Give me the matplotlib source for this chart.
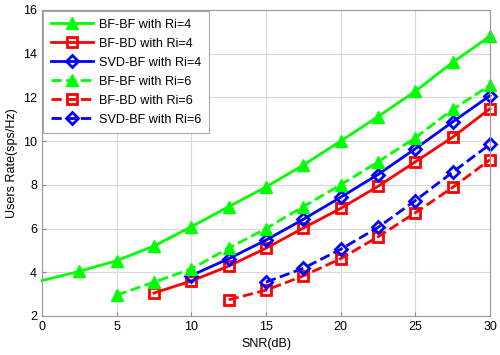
import numpy as np
import matplotlib.pyplot as plt

plt.rcParams['font.family'] = ['Liberation Sans', 'DejaVu Sans']

snr = [0, 2.5, 5, 7.5, 10, 12.5, 15, 17.5, 20, 22.5, 25, 27.5, 30]

bfbf_4 = [3.62, 4.04, 4.53, 5.2, 6.08, 7.0, 7.9, 8.9, 10.0, 11.12, 12.28, 13.6, 14.8]
bfbf_6 = [2.95, 3.55, 4.15, 5.1, 6.0, 7.0, 8.0, 9.05, 10.15, 11.45, 12.55]
bfbd_4 = [3.05, 3.6, 4.28, 5.1, 6.02, 6.92, 7.93, 9.05, 10.18, 11.48]
svdbf_4 = [3.85, 4.62, 5.47, 6.42, 7.43, 8.47, 9.65, 10.88, 12.08]
bfbd_6 = [2.74, 3.18, 3.83, 4.62, 5.62, 6.72, 7.88, 9.15]
svdbf_6 = [3.55, 4.18, 5.05, 6.05, 7.28, 8.58, 9.85]

labels = ['BF-BF with Ri=4', 'BF-BD with Ri=4', 'SVD-BF with Ri=4',
          'BF-BF with Ri=6', 'BF-BD with Ri=6', 'SVD-BF with Ri=6']

fig = plt.figure(figsize=(5, 3.55), dpi=100)
ax = fig.add_axes([0.084, 0.11, 0.896, 0.862])

green = '#00ff00'
ax.plot(snr, bfbf_4, '-', color=green, lw=2, marker='^', ms=9, mfc=green,
        markevery=list(range(1, len(snr))), label=labels[0], clip_on=False)
ax.plot(snr[-len(bfbd_4):], bfbd_4, '-', color='red', lw=2, marker='s', ms=7,
        mfc='none', mew=2, label=labels[1], clip_on=False)
ax.plot(snr[-len(svdbf_4):], svdbf_4, '-', color='blue', lw=2, marker='D', ms=6,
        mfc='none', mew=2, label=labels[2], clip_on=False)
ax.plot(snr[-len(bfbf_6):], bfbf_6, '--', color=green, lw=2, marker='^', ms=9,
        mfc=green, label=labels[3], clip_on=False)
ax.plot(snr[-len(bfbd_6):], bfbd_6, '--', color='red', lw=2, marker='s', ms=7,
        mfc='none', mew=2, label=labels[4], clip_on=False)
ax.plot(snr[-len(svdbf_6):], svdbf_6, '--', color='blue', lw=2, marker='D', ms=6,
        mfc='none', mew=2, label=labels[5], clip_on=False)

ax.set_xlim(0, 30)
ax.set_ylim(2, 16)
ax.set_xticks(np.arange(0, 31, 5))
ax.set_yticks(np.arange(2, 17, 2))
ax.tick_params(labelsize=9, direction='in', length=3, color='#888888')
ax.grid(True, color='#d8d8d8', lw=0.8)
for s in ax.spines.values():
    s.set_color('#999999')
ax.set_xlabel('SNR(dB)', fontsize=9)
ax.set_ylabel('Users Rate(sps/Hz)', fontsize=9)

leg = ax.legend(loc='upper left', fontsize=9.1, handlelength=3.3, borderaxespad=0.1,
                fancybox=False, framealpha=1, edgecolor='#aaaaaa',
                labelspacing=0.55, borderpad=0.6, handletextpad=0.5)
leg.get_frame().set_linewidth(0.8)

fig.savefig('out.png', dpi=100)
